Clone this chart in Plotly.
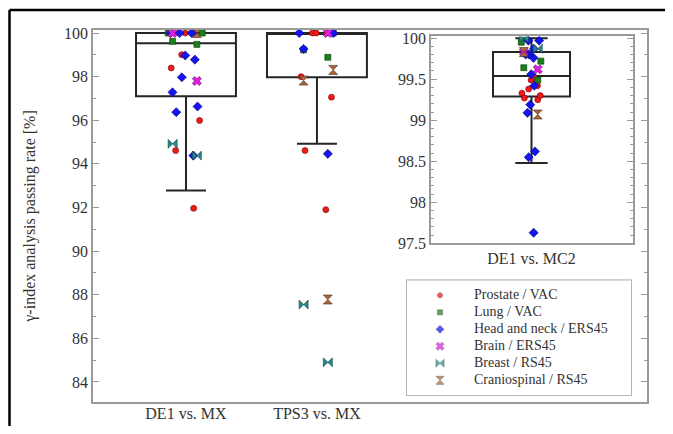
import plotly.graph_objects as go

# ---------------- data ----------------
series_names = ["Prostate / VAC", "Lung / VAC", "Head and neck / ERS45",
                "Brain / ERS45", "Breast / RS45", "Craniospinal / RS45"]

cat_main = ["DE1 vs. MX", "TPS3 vs. MX"]
cat_inset = ["DE1 vs. MC2"]

# DE1 vs. MX
de1_mx_prostate = [100, 100, 100, 99.01, 98.40, 95.99, 94.61, 91.96]
de1_mx_lung = [100, 100, 99.62, 99.48]
de1_mx_headneck = [100, 100, 100, 98.97, 98.78, 97.97, 97.28, 96.63, 96.37, 94.38]
de1_mx_brain = [100, 97.80]
de1_mx_breast = [94.92, 94.38]
de1_mx_cranio = [100]

# TPS3 vs. MX
tps3_mx_prostate = [100, 100, 100, 98.00, 97.06, 94.61, 91.90]
tps3_mx_lung = [100, 99.23, 98.89]
tps3_mx_headneck = [100, 100, 99.27, 94.46]
tps3_mx_brain = [100]
tps3_mx_breast = [87.55, 84.90]
tps3_mx_cranio = [98.31, 97.82, 87.78]

# DE1 vs. MC2
de1_mc2_prostate = [99.52, 99.49, 99.42, 99.38, 99.33, 99.30, 99.27, 99.25]
de1_mc2_lung = [99.95, 99.72, 99.64, 99.49]
de1_mc2_headneck = [99.97, 99.97, 99.87, 99.80, 99.80, 99.76, 99.56, 99.42,
                    99.19, 99.09, 98.62, 98.55, 97.63]
de1_mc2_brain = [99.83, 99.62]
de1_mc2_breast = [100.0, 99.87]
de1_mc2_cranio = [99.83, 99.07]

# box statistics (q1, median, q3, lower whisker, upper whisker)
box_main_q1 = [97.10, 97.97]
box_main_median = [99.53, 100.0]
box_main_q3 = [100.0, 100.0]
box_main_low = [92.78, 94.92]
box_main_high = [100.0, 100.0]

box_inset_q1 = [99.29]
box_inset_median = [99.54]
box_inset_q3 = [99.83]
box_inset_low = [98.48]
box_inset_high = [100.0]

main_ticks = [84, 86, 88, 90, 92, 94, 96, 98, 100]
inset_ticks = [97.5, 98, 98.5, 99, 99.5, 100]
inset_ticktext = ["97.5", "98", "98.5", "99", "99.5", "100"]

# ---------------- styles ----------------
styles = [
    dict(symbol="circle", size=6, color="#ee1b1b", line=dict(width=0.6, color="#7a0000")),
    dict(symbol="square", size=6, color="#1a7f1a", line=dict(width=0.6, color="#0b3d0b")),
    dict(symbol="diamond", size=7, color="#1414ee", line=dict(width=0.6, color="#00007a")),
    dict(symbol="x", size=8, color="#e020e0", line=dict(width=0.6, color="#6a006a")),
    dict(symbol="bowtie", size=9, color="#2a8a8a", line=dict(width=0.6, color="#0d4545")),
    dict(symbol="hourglass", size=9, color="#a86840", line=dict(width=0.6, color="#4a2a10")),
]

main_sets = {
    cat_main[0]: [de1_mx_prostate, de1_mx_lung, de1_mx_headneck, de1_mx_brain, de1_mx_breast, de1_mx_cranio],
    cat_main[1]: [tps3_mx_prostate, tps3_mx_lung, tps3_mx_headneck, tps3_mx_brain, tps3_mx_breast, tps3_mx_cranio],
}
inset_sets = {
    cat_inset[0]: [de1_mc2_prostate, de1_mc2_lung, de1_mc2_headneck, de1_mc2_brain, de1_mc2_breast, de1_mc2_cranio],
}

FONT = "Liberation Serif, Times New Roman, serif"
BOXLINE = "#262626"
AXCOL = "#9a9a9a"
TXT = "#333333"

fig = go.Figure()

# boxes (precomputed statistics)
fig.add_trace(go.Box(
    x=cat_main, q1=box_main_q1, median=box_main_median, q3=box_main_q3,
    lowerfence=box_main_low, upperfence=box_main_high,
    boxpoints=False, width=0.763, whiskerwidth=0.4,
    line=dict(color=BOXLINE, width=2), fillcolor="rgba(0,0,0,0)",
    showlegend=False, xaxis="x", yaxis="y"))
fig.add_trace(go.Box(
    x=cat_inset, q1=box_inset_q1, median=box_inset_median, q3=box_inset_q3,
    lowerfence=box_inset_low, upperfence=box_inset_high,
    boxpoints=False, width=0.766, whiskerwidth=0.42,
    line=dict(color=BOXLINE, width=2), fillcolor="rgba(0,0,0,0)",
    showlegend=False, xaxis="x2", yaxis="y2"))

# jittered points
def add_points(sets, xa, ya, width):
    for cat, lists in sets.items():
        for vals, st in zip(lists, styles):
            fig.add_trace(go.Box(
                x=[cat] * len(vals), y=vals, boxpoints="all", jitter=1.0,
                pointpos=0, width=width,
                line=dict(width=0, color="rgba(0,0,0,0)"),
                fillcolor="rgba(0,0,0,0)", marker=st,
                showlegend=False, xaxis=xa, yaxis=ya, hoveron="points"))

add_points(main_sets, "x", "y", 0.32)
add_points(inset_sets, "x2", "y2", 0.24)

# legend: drawn in its own small hidden subplot
rows = list(range(len(series_names)))
fig.add_trace(go.Scatter(
    x=[0] * len(rows), y=rows, mode="markers",
    marker=dict(symbol=[s["symbol"] for s in styles],
                size=[s["size"] - 1 for s in styles],
                color=[s["color"] for s in styles],
                line=dict(width=0.6, color=[s["line"]["color"] for s in styles])),
    showlegend=False, hoverinfo="skip", xaxis="x3", yaxis="y3"))
fig.add_trace(go.Scatter(
    x=[1] * len(rows), y=rows, mode="text", text=series_names,
    textposition="middle right", textfont=dict(family=FONT, size=14, color=TXT),
    showlegend=False, hoverinfo="skip", xaxis="x3", yaxis="y3"))

# page -> figure coordinates (page has an 8 px body margin)
OFF = 8
W, H = 665, 418
ML, MT = 93 - OFF, 29.5 - OFF
MR = W - (647 - OFF)
MB = H - (401.7 - OFF)
PW, PH = W - ML - MR, H - MT - MB

def px(x):
    return (x - OFF - ML) / PW

def py(y):
    return 1 - (y - OFF - MT) / PH

hidden = dict(visible=False, showgrid=False, zeroline=False, fixedrange=True)

fig.update_layout(
    width=W, height=H,
    margin=dict(l=ML, r=MR, t=MT, b=MB, autoexpand=False),
    paper_bgcolor="white", plot_bgcolor="white",
    font=dict(family=FONT, size=16, color=TXT),
    boxmode="overlay",
    showlegend=False,
    xaxis=dict(domain=[0, 1], range=[-0.71, 3.52], type="category",
               showline=True, linecolor=AXCOL, linewidth=1.5, mirror=True,
               ticks="", showgrid=False, zeroline=False, ticklabelstandoff=-4,
               tickfont=dict(size=16), anchor="y"),
    yaxis=dict(domain=[0, 1], range=[83.08, 100.14], tickvals=main_ticks,
               showline=True, linecolor=AXCOL, linewidth=1.5, mirror="allticks",
               ticks="inside", ticklen=6, tickcolor=AXCOL, tickwidth=1,
               minor=dict(dtick=1, ticks="inside", ticklen=3, tickcolor=AXCOL, showgrid=False),
               showgrid=False, zeroline=False, tickfont=dict(size=16),
               title=dict(text="γ-index analysis passing rate [%]", font=dict(size=16), standoff=24),
               anchor="x"),
    xaxis2=dict(domain=[px(431), px(633)], range=[-1.0, 1.01], type="category",
                showline=True, linecolor=AXCOL, linewidth=1.5, mirror=True,
                ticks="", showgrid=False, zeroline=False,
                tickfont=dict(size=16), anchor="y2"),
    yaxis2=dict(domain=[py(243), py(36)], range=[97.5, 100.02],
                tickvals=inset_ticks, ticktext=inset_ticktext,
                showline=True, linecolor=AXCOL, linewidth=1.5, mirror="allticks",
                ticks="inside", ticklen=6, tickcolor=AXCOL, tickwidth=1,
                minor=dict(dtick=0.1, ticks="inside", ticklen=3, tickcolor=AXCOL, showgrid=False),
                showgrid=False, zeroline=False, tickfont=dict(size=16),
                anchor="x2"),
    xaxis3=dict(domain=[px(407), px(631)], range=[-(440 - 407) / 34, (631 - 440) / 34],
                anchor="y3", **hidden),
    yaxis3=dict(domain=[py(395), py(280)], range=[(395 - 295) / 17, -(295 - 280) / 17],
                anchor="x3", **hidden),
    shapes=[
        # outer frame of the figure (left and top edges visible)
        dict(type="line", xref="paper", yref="paper",
             x0=px(9.5), x1=px(9.5), y0=py(480), y1=py(9.5),
             line=dict(color="black", width=2.5), layer="above"),
        dict(type="line", xref="paper", yref="paper",
             x0=px(9.5), x1=px(720), y0=py(9.5), y1=py(9.5),
             line=dict(color="black", width=2.5), layer="above"),
        # legend frame
        dict(type="rect", xref="paper", yref="paper",
             x0=px(407), x1=px(631), y0=py(395), y1=py(280),
             line=dict(color=AXCOL, width=1.5), fillcolor="white", layer="below"),
    ],
)

fig.write_html("out.html")
